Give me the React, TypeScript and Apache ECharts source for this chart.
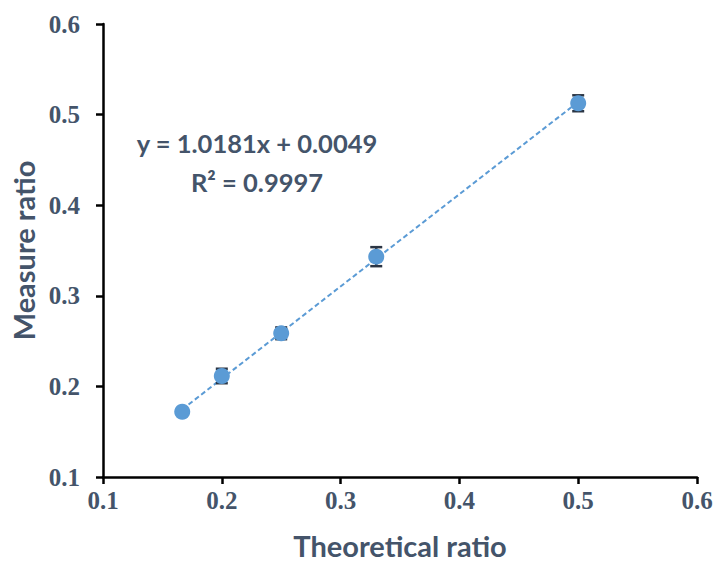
import React, { useEffect, useRef } from "react";
import * as echarts from "echarts";

const theoretical = [0.1667, 0.2, 0.25, 0.33, 0.5];
const measured = [0.172, 0.2115, 0.2586, 0.3432, 0.5125];
const errors = [0.0, 0.008, 0.0065, 0.0105, 0.0088];
const trendX = [0.1667, 0.5];
const trendY = [0.1746, 0.514];
const axisTicks = [0.1, 0.2, 0.3, 0.4, 0.5, 0.6];
const equationLines = ["y = 1.0181x + 0.0049", "R² = 0.9997"];

const TEXT = "#44546A";
const BLUE = "#5B9BD5";
const titleFont = "Lato";

export default function App() {
  const ref = useRef<HTMLDivElement>(null);
  useEffect(() => {
    document.body.style.margin = "0";
    const chart = echarts.init(ref.current!, null, { renderer: "svg" });
    const pts = theoretical.map((x, i) => [x, measured[i]]);
    const errData = theoretical.map((x, i) => [x, measured[i] - errors[i], measured[i] + errors[i]]);
    const axisCommon = {
      type: "value",
      min: axisTicks[0],
      max: axisTicks[axisTicks.length - 1],
      interval: 0.1,
      splitLine: { show: false },
      axisLine: { show: true, onZero: false, lineStyle: { color: "#000", width: 2.5 } },
      axisTick: { show: true, inside: false, length: 7, lineStyle: { color: "#000", width: 2.5 } },
      axisLabel: {
        color: TEXT,
        fontFamily: "Liberation Serif",
        fontWeight: "bold",
        fontSize: 25,
        formatter: (v: number) => v.toFixed(1),
      },
      nameLocation: "middle",
      nameTextStyle: { color: TEXT, fontFamily: titleFont, fontWeight: "bold", fontSize: 29, lineHeight: 29 },
    };
    chart.setOption({
      animation: false,
      grid: { left: 103, right: 20, top: 24, bottom: 86, outerBoundsMode: "none" },
      xAxis: { ...axisCommon, name: "Theoretical ratio", nameGap: 54, axisLabel: { ...axisCommon.axisLabel, margin: 11 } },
      yAxis: {
        ...axisCommon,
        name: "Measure ratio",
        nameGap: 65,
        nameRotate: 90,
        axisLabel: { ...axisCommon.axisLabel, margin: 23 },
      },
      graphic: equationLines.map((t, i) => ({
        type: "text",
        x: 257,
        y: 143 + i * 39,
        style: {
          text: t,
          fill: TEXT,
          font: `bold 25.5px ${titleFont}`,
          textAlign: "center",
          textVerticalAlign: "middle",
        },
        z: 10,
      })),
      series: [
        {
          type: "line",
          data: trendX.map((x, i) => [x, trendY[i]]),
          symbol: "none",
          lineStyle: { color: BLUE, width: 2, type: [5, 3] },
          z: 1,
        },
        {
          type: "custom",
          data: errData,
          z: 2,
          renderItem: (params: any, api: any) => {
            const x = api.value(0);
            const lo = api.coord([x, api.value(1)]);
            const hi = api.coord([x, api.value(2)]);
            const w = 6;
            const style = { stroke: "#2B3544", lineWidth: 2.5 };
            return {
              type: "group",
              children: [
                { type: "line", shape: { x1: lo[0], y1: lo[1], x2: hi[0], y2: hi[1] }, style },
                { type: "line", shape: { x1: lo[0] - w, y1: lo[1], x2: lo[0] + w, y2: lo[1] }, style },
                { type: "line", shape: { x1: hi[0] - w, y1: hi[1], x2: hi[0] + w, y2: hi[1] }, style },
              ],
            };
          },
        },
        {
          type: "scatter",
          data: pts,
          symbol: "circle",
          symbolSize: 16,
          itemStyle: { color: BLUE, opacity: 1 },
          z: 3,
        },
      ],
    });
    return () => chart.dispose();
  }, []);
  return <div ref={ref} style={{ width: 717, height: 563 }} />;
}
